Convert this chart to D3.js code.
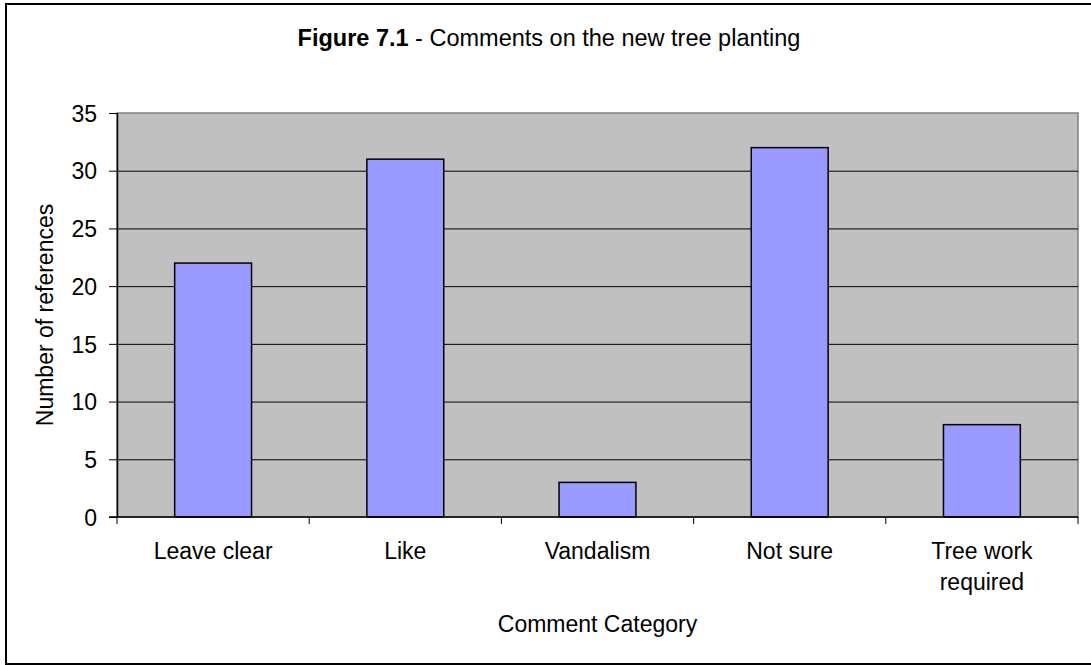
<!DOCTYPE html>
<html>
<head>
<meta charset="utf-8">
<style>
  body { margin: 0; background: #fff; }
  svg text { font-family: "Liberation Sans", Arial, sans-serif; fill: #000; }
</style>
</head>
<body>
<svg width="1091" height="665"></svg>
<script src="https://d3js.org/d3.v7.min.js"></script>
<script>

// chart data
var categories = ["Leave clear", "Like", "Vandalism", "Not sure", "Tree work required"];
var counts = [22, 31, 3, 32, 8];
var yTicks = [0, 5, 10, 15, 20, 25, 30, 35];

var svg = d3.select("svg"),
    margin = {top: 113, right: 13, bottom: 148, left: 117},
    width = +svg.attr("width") - margin.left - margin.right,
    height = +svg.attr("height") - margin.top - margin.bottom;

// outer chart border
svg.append("rect")
    .attr("x", 6)
    .attr("y", 4)
    .attr("width", 1086)
    .attr("height", 660)
    .attr("fill", "#fff")
    .attr("stroke", "#000")
    .attr("stroke-width", 2);

var g = svg.append("g").attr("transform", "translate(" + margin.left + "," + margin.top + ")");

var x = d3.scaleBand()
    .domain(categories)
    .range([0, width])
    .paddingInner(0.6)
    .paddingOuter(0.3);

var y = d3.scaleLinear()
    .domain([0, 35])
    .range([height, 0]);

// plot area
g.append("rect")
    .attr("width", width)
    .attr("height", height)
    .attr("fill", "#c0c0c0")
    .attr("stroke", "#808080")
    .attr("stroke-width", 1.5);

// gridlines
g.append("g")
    .call(d3.axisLeft(y).tickValues(yTicks.slice(1, -1)).tickSize(-width).tickFormat(""))
    .call(function(s) { s.select(".domain").remove(); })
    .selectAll("line")
    .attr("stroke", "#000");

// bars
g.selectAll(".bar")
    .data(counts)
    .enter().append("rect")
    .attr("class", "bar")
    .attr("x", function(d, i) { return x(categories[i]); })
    .attr("y", function(d) { return y(d); })
    .attr("width", x.bandwidth())
    .attr("height", function(d) { return height - y(d); })
    .attr("fill", "#9999ff")
    .attr("stroke", "#000")
    .attr("stroke-width", 1.5);

// y axis
var yAxis = g.append("g")
    .call(d3.axisLeft(y).tickValues(yTicks).tickSize(8).tickPadding(12));
yAxis.selectAll("line").attr("stroke", "#000");
yAxis.select(".domain").attr("stroke", "#000").attr("stroke-width", 1.5).attr("d", "M0.5," + height + "V0");
yAxis.selectAll("text").style("font-size", "23px").attr("dy", "0.36em");

// x axis line and category boundary ticks
g.append("line")
    .attr("x1", -8).attr("x2", width)
    .attr("y1", height).attr("y2", height)
    .attr("stroke", "#000")
    .attr("stroke-width", 1.5);

g.selectAll(".xtick")
    .data(d3.range(categories.length + 1))
    .enter().append("line")
    .attr("class", "xtick")
    .attr("x1", function(i) { return i * x.step(); })
    .attr("x2", function(i) { return i * x.step(); })
    .attr("y1", height)
    .attr("y2", height + 7)
    .attr("stroke", "#000");

// category labels
var xAxis = g.append("g")
    .attr("transform", "translate(0," + height + ")")
    .call(d3.axisBottom(x).tickSize(0));
xAxis.select(".domain").remove();
xAxis.selectAll("text")
    .style("font-size", "23px")
    .attr("y", 42)
    .attr("dy", 0)
    .call(wrap, 150);

// axis titles
svg.append("text")
    .attr("x", margin.left + width / 2)
    .attr("y", 632)
    .attr("text-anchor", "middle")
    .style("font-size", "23px")
    .text("Comment Category");

svg.append("text")
    .attr("transform", "translate(53," + (margin.top + height / 2) + ") rotate(-90)")
    .attr("text-anchor", "middle")
    .style("font-size", "23px")
    .text("Number of references");

// chart title
var title = svg.append("text")
    .attr("x", 549)
    .attr("y", 46)
    .attr("text-anchor", "middle")
    .style("font-size", "23.5px");
title.append("tspan").style("font-weight", "bold").text("Figure 7.1");
title.append("tspan").text(" - Comments on the new tree planting");

function wrap(text, maxWidth) {
    text.each(function() {
        var t = d3.select(this),
            words = t.text().split(/\s+/),
            line = [],
            lineNo = 0,
            yy = t.attr("y"),
            tspan = t.text(null).append("tspan").attr("x", 0).attr("y", yy);
        words.forEach(function(w) {
            line.push(w);
            tspan.text(line.join(" "));
            if (tspan.node().getComputedTextLength() > maxWidth && line.length > 1) {
                line.pop();
                tspan.text(line.join(" "));
                line = [w];
                lineNo++;
                tspan = t.append("tspan").attr("x", 0).attr("y", +yy + lineNo * 31).text(w);
            }
        });
    });
}
</script>
</body>
</html>
